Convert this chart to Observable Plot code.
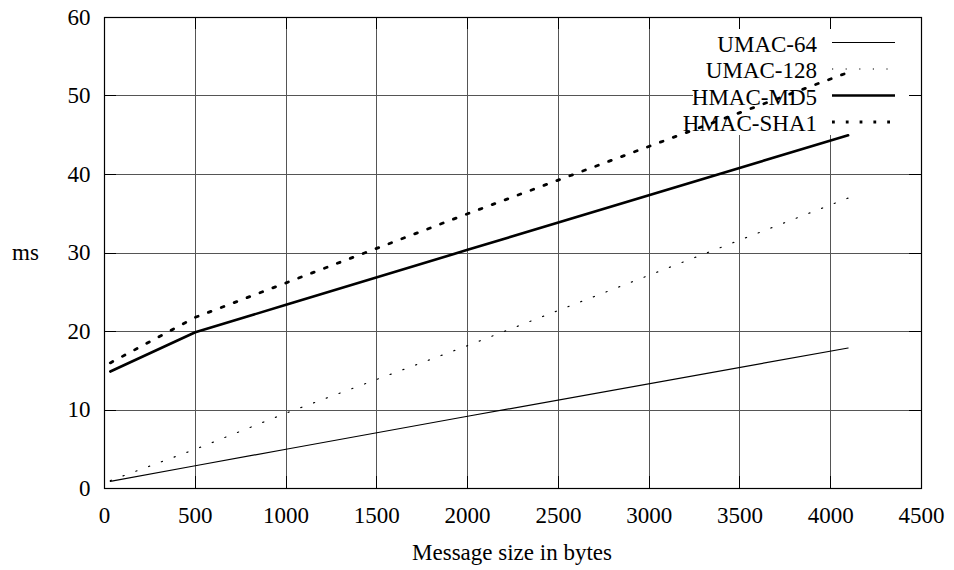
<!DOCTYPE html>
<html>
<head>
<meta charset="utf-8">
<script src="https://cdn.jsdelivr.net/npm/d3@7"></script>
<script src="https://cdn.jsdelivr.net/npm/@observablehq/plot@0.6"></script>
</head>
<body style="margin:0;padding:0;background:#fff">
<div id="chart"></div>
<div id="caption" style="width:884px;margin-left:70px;text-align:center;font-family:'Liberation Serif';font-size:23px;line-height:26px;color:#000"></div>
<script>
// ---- data ----
const messageSizes = [32, 500, 1000, 2000, 4096];
const seriesNames = ["UMAC-64", "UMAC-128", "HMAC-MD5", "HMAC-SHA1"];
const umac64   = [0.9, 2.9, 5.0, 9.2, 17.9];
const umac128  = [1.0, 5.0, 9.6, 18.2, 37.0];
const hmacMd5  = [14.9, 19.9, 23.4, 30.4, 45.0];
const hmacSha1 = [16.0, 21.8, 26.2, 35.0, 53.0];
const xTicks = [0, 500, 1000, 1500, 2000, 2500, 3000, 3500, 4000, 4500];
const yTicks = [0, 10, 20, 30, 40, 50, 60];
const xLabel = "Message size in bytes";
const yLabel = "ms";

// ---- styles ----
const FONT = "Liberation Serif";
const FS = 23;
const lineStyles = {
  "UMAC-64":   {strokeWidth: 1.2, dash: null},
  "UMAC-128":  {strokeWidth: 1.2, dash: "1.2,12.4"},
  "HMAC-MD5":  {strokeWidth: 2.6, dash: null},
  "HMAC-SHA1": {strokeWidth: 2.8, dash: "2.8,11"}
};
const seriesValues = [umac64, umac128, hmacMd5, hmacSha1];
const rows = seriesNames.flatMap((name, i) =>
  messageSizes.map((x, j) => ({series: name, x, y: seriesValues[i][j]})));

const W = 954, H = 540;
const mL = 104, mR = 33, mT = 17, mB = 52;
const TICK = 12;

// grid lines (drawn first)
const gridMark = (index, scales, values, dim) => {
  const g = d3.create("svg:g").attr("stroke", "#555").attr("stroke-width", 1);
  const x0 = dim.marginLeft, x1 = dim.width - dim.marginRight;
  const y0 = dim.marginTop, y1 = dim.height - dim.marginBottom;
  for (const t of xTicks.slice(1, -1)) {
    const px = Math.round(scales.x(t)) + 0.5;
    g.append("line").attr("x1", px).attr("x2", px).attr("y1", y0).attr("y2", y1);
  }
  for (const t of yTicks.slice(1, -1)) {
    const py = Math.round(scales.y(t)) + 0.5;
    g.append("line").attr("x1", x0).attr("x2", x1).attr("y1", py).attr("y2", py);
  }
  return g.node();
};

// white key box that hides the grid behind the legend
const keyBoxMark = (index, scales, values, dim) => {
  const right = dim.width - dim.marginRight;
  const top = dim.marginTop;
  return d3.create("svg:rect")
    .attr("x", right - 228).attr("y", top + 11)
    .attr("width", 216).attr("height", 107)
    .attr("fill", "#fff").node();
};

// inward ticks on all four sides
const tickMark = (index, scales, values, dim) => {
  const g = d3.create("svg:g").attr("stroke", "#000").attr("stroke-width", 1);
  const x0 = dim.marginLeft, x1 = dim.width - dim.marginRight;
  const y0 = dim.marginTop, y1 = dim.height - dim.marginBottom;
  for (const t of xTicks) {
    const px = Math.round(scales.x(t)) + 0.5;
    g.append("line").attr("x1", px).attr("x2", px).attr("y1", y1).attr("y2", y1 - TICK);
    g.append("line").attr("x1", px).attr("x2", px).attr("y1", y0).attr("y2", y0 + TICK);
  }
  for (const t of yTicks) {
    const py = Math.round(scales.y(t)) + 0.5;
    g.append("line").attr("x1", x0).attr("x2", x0 + TICK).attr("y1", py).attr("y2", py);
    g.append("line").attr("x1", x1).attr("x2", x1 - TICK).attr("y1", py).attr("y2", py);
  }
  return g.node();
};

// legend (key) text and samples
const legendMark = (index, scales, values, dim) => {
  const g = d3.create("svg:g");
  const right = dim.width - dim.marginRight;
  const top = dim.marginTop;
  seriesNames.forEach((name, i) => {
    const ly = top + 25.5 + i * 26.5;
    g.append("text").attr("x", right - 104).attr("y", ly + 9)
      .attr("text-anchor", "end").attr("font-family", FONT).attr("font-size", FS)
      .attr("fill", "#000").text(name);
    const s = lineStyles[name];
    const ln = g.append("line").attr("x1", right - 89).attr("x2", right - 26)
      .attr("y1", ly).attr("y2", ly)
      .attr("stroke", "#000").attr("stroke-width", s.strokeWidth);
    if (s.dash) ln.attr("stroke-dasharray", s.dash);
  });
  return g.node();
};

const lineMarks = seriesNames.map(name => {
  const s = lineStyles[name];
  return Plot.line(rows.filter(d => d.series === name), {
    x: "x", y: "y", stroke: "#000", strokeWidth: s.strokeWidth,
    strokeDasharray: s.dash ?? undefined, strokeLinejoin: "round"
  });
});

const chart = Plot.plot({
  width: W, height: H,
  marginLeft: mL, marginRight: mR, marginTop: mT, marginBottom: mB,
  style: {fontFamily: FONT, fontSize: FS + "px", display: "block"},
  x: {domain: [0, 4500]},
  y: {domain: [0, 60]},
  marks: [
    gridMark,
    keyBoxMark,
    tickMark,
    Plot.frame({stroke: "#000", strokeWidth: 1.2}),
    Plot.axisX(xTicks, {tickSize: 0, tickPadding: 18, fontSize: FS, fontFamily: FONT, label: null, tickFormat: d => String(d)}),
    Plot.axisY(yTicks, {tickSize: 0, tickPadding: 14, fontSize: FS, fontFamily: FONT, label: null, tickFormat: d => String(d)}),
    Plot.text([yLabel], {frameAnchor: "left", dx: -79, text: d => d, fontSize: FS, fontFamily: FONT, textAnchor: "middle"}),
    legendMark,
    ...lineMarks
  ]
});
// make the serif face win over any other rule
chart.setAttribute("font-family", FONT);
for (const t of chart.querySelectorAll("text, tspan")) {
  t.style.setProperty("font-family", "'Liberation Serif'", "important");
}
document.getElementById("chart").appendChild(chart);
document.getElementById("caption").textContent = xLabel;
</script>
</body>
</html>
